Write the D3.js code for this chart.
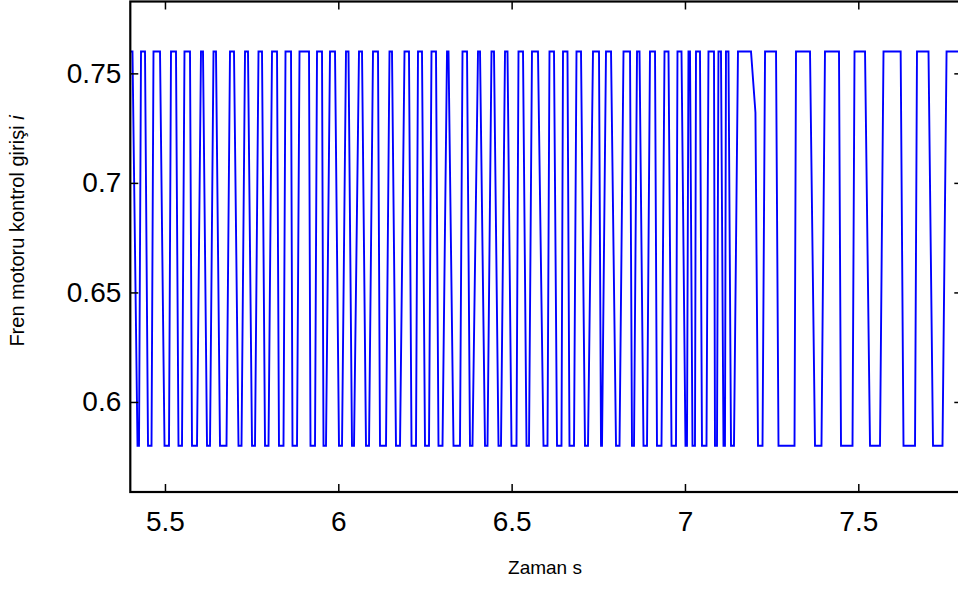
<!DOCTYPE html>
<html><head><meta charset="utf-8">
<script src="https://cdn.jsdelivr.net/npm/d3@7"></script>
<style>body{margin:0;background:#fff}svg{display:block}</style>
</head><body>
<script>
// Brake motor control input (corner points of the switching signal)
const time = [
  5.396, 5.4063, 5.4208, 5.4251, 5.4309, 5.4424, 5.4511, 5.4612,
  5.4669, 5.4857, 5.4987, 5.5116, 5.5174, 5.5318, 5.5390, 5.5491,
  5.5563, 5.5722, 5.5780, 5.5924, 5.6039, 5.6097, 5.6213, 5.6299,
  5.6400, 5.6472, 5.6588, 5.6775, 5.6876, 5.6991, 5.7121, 5.7208,
  5.7309, 5.7395, 5.7511, 5.7597, 5.7698, 5.7799, 5.7886, 5.7987,
  5.8088, 5.8232, 5.8289, 5.8419, 5.8477, 5.8636, 5.8679, 5.8809,
  5.8881, 5.9155, 5.9198, 5.9328, 5.9386, 5.9530, 5.9573, 5.9645,
  5.9761, 5.9905, 6.0020, 6.0107, 6.0222, 6.0294, 6.0395, 6.0453,
  6.0597, 6.0684, 6.0799, 6.0886, 6.1001, 6.1145, 6.1203, 6.1376,
  6.1477, 6.1549, 6.1664, 6.1780, 6.1910, 6.2039, 6.2112, 6.2241,
  6.2299, 6.2414, 6.2501, 6.2616, 6.2688, 6.2818, 6.2890, 6.3006,
  6.3136, 6.3179, 6.3323, 6.3510, 6.3583, 6.3713, 6.3799, 6.3871,
  6.4030, 6.4088, 6.4232, 6.4304, 6.4419, 6.4491, 6.4621, 6.4693,
  6.4809, 6.4881, 6.4996, 6.5140, 6.5198, 6.5328, 6.5429, 6.5501,
  6.5587, 6.5760, 6.5919, 6.6034, 6.6092, 6.6222, 6.6309, 6.6438,
  6.6482, 6.6611, 6.6669, 6.6799, 6.6871, 6.7001, 6.7116, 6.7203,
  6.7347, 6.7520, 6.7578, 6.7607, 6.7722, 6.7867, 6.8011, 6.8112,
  6.8227, 6.8415, 6.8472, 6.8530, 6.8617, 6.8689, 6.8804, 6.8905,
  6.8991, 6.9136, 6.9193, 6.9323, 6.9410, 6.9525, 6.9612, 6.9741,
  6.9784, 6.9900, 7.0015, 7.0058, 7.0101, 7.0145, 7.0217, 7.0289,
  7.0318, 7.0433, 7.0491, 7.0621, 7.0678, 7.0837, 7.0866, 7.0924,
  7.0966, 7.1039, 7.1111, 7.1154, 7.1183, 7.1255, 7.1328, 7.1414,
  7.1529, 7.1905, 7.2033, 7.2107, 7.2237,
  7.2310, 7.2627, 7.2698, 7.3160, 7.3203, 7.3607, 7.3751, 7.3938,
  7.4039, 7.4443, 7.4501, 7.4833, 7.4891, 7.5194, 7.5338, 7.5626,
  7.5727, 7.6222, 7.6304, 7.6636, 7.6693, 7.7025, 7.7155, 7.7429,
  7.7546, 7.8100
];
const input = [
  0.76, 0.76, 0.58, 0.58, 0.76, 0.76, 0.58, 0.58,
  0.76, 0.76, 0.58, 0.58, 0.76, 0.76, 0.58, 0.58,
  0.76, 0.76, 0.58, 0.58, 0.76, 0.76, 0.58, 0.58,
  0.76, 0.76, 0.58, 0.58, 0.76, 0.76, 0.58, 0.58,
  0.76, 0.76, 0.58, 0.58, 0.76, 0.76, 0.58, 0.58,
  0.76, 0.76, 0.58, 0.58, 0.76, 0.76, 0.58, 0.58,
  0.76, 0.76, 0.58, 0.58, 0.76, 0.76, 0.58, 0.58,
  0.76, 0.76, 0.58, 0.58, 0.76, 0.76, 0.58, 0.58,
  0.76, 0.76, 0.58, 0.58, 0.76, 0.76, 0.58, 0.58,
  0.76, 0.76, 0.58, 0.58, 0.76, 0.76, 0.58, 0.58,
  0.76, 0.76, 0.58, 0.58, 0.76, 0.76, 0.58, 0.58,
  0.76, 0.76, 0.58, 0.58, 0.76, 0.76, 0.58, 0.58,
  0.76, 0.76, 0.58, 0.58, 0.76, 0.76, 0.58, 0.58,
  0.76, 0.76, 0.58, 0.58, 0.76, 0.76, 0.58, 0.58,
  0.76, 0.76, 0.58, 0.58, 0.76, 0.76, 0.58, 0.58,
  0.76, 0.76, 0.58, 0.58, 0.76, 0.76, 0.58, 0.58,
  0.76, 0.76, 0.58, 0.58, 0.76, 0.76, 0.58, 0.58,
  0.76, 0.76, 0.58, 0.58, 0.76, 0.76, 0.58, 0.58,
  0.76, 0.76, 0.58, 0.58, 0.76, 0.76, 0.58, 0.58,
  0.76, 0.76, 0.58, 0.58, 0.76, 0.76, 0.58, 0.58,
  0.76, 0.76, 0.58, 0.58, 0.76, 0.76, 0.58, 0.58,
  0.76, 0.76, 0.58, 0.58, 0.76, 0.76, 0.58, 0.58,
  0.76, 0.76, 0.732, 0.58, 0.58,
  0.76, 0.76, 0.58, 0.58, 0.76, 0.76, 0.58, 0.58,
  0.76, 0.76, 0.58, 0.58, 0.76, 0.76, 0.58, 0.58,
  0.76, 0.76, 0.58, 0.58, 0.76, 0.76, 0.58, 0.58,
  0.76, 0.76
];
const xTicks = [5.5, 6, 6.5, 7, 7.5];
const yTicks = [0.6, 0.65, 0.7, 0.75];
const xLimits = [5.4, 7.8];
const yLimits = [0.5589, 0.7828];

const W = 958, H = 590;
const box = {left: 130.3, right: 962.3, top: 1.5, bottom: 492};
const font = "'Liberation Sans', Arial, Helvetica, sans-serif";
const plain = d => String(d);

const svg = d3.select("body").append("svg")
  .attr("width", W).attr("height", H)
  .style("font-family", font);

const x = d3.scaleLinear().domain(xLimits).range([box.left, box.right]);
const y = d3.scaleLinear().domain(yLimits).range([box.bottom, box.top]);

svg.append("clipPath").attr("id", "plot-clip")
  .append("rect")
  .attr("x", box.left).attr("y", box.top)
  .attr("width", box.right - box.left).attr("height", box.bottom - box.top);

const points = time.map((t, i) => ({t, v: input[i]}));
const line = d3.line().x(d => x(d.t)).y(d => y(d.v));

svg.append("path")
  .datum(points)
  .attr("clip-path", "url(#plot-clip)")
  .attr("fill", "none")
  .attr("stroke", "#0000ff")
  .attr("stroke-width", 1.9)
  .attr("stroke-linejoin", "miter")
  .attr("d", line);

// Axes with inward ticks on all four sides
const tick = 8;
const styleAxis = g => {
  g.select(".domain").remove();
  g.selectAll(".tick line").attr("stroke", "#000").attr("stroke-width", 1.5);
  g.selectAll(".tick text").attr("fill", "#000").style("font-size", "28px").style("font-family", font);
};
svg.append("g").attr("transform", `translate(0,${box.bottom})`)
  .call(d3.axisBottom(x).tickValues(xTicks).tickSize(-tick).tickPadding(19).tickFormat(plain))
  .call(styleAxis);
svg.append("g").attr("transform", `translate(0,${box.top})`)
  .call(d3.axisTop(x).tickValues(xTicks).tickSize(-tick).tickFormat(""))
  .call(styleAxis);
svg.append("g").attr("transform", `translate(${box.left},0)`)
  .call(d3.axisLeft(y).tickValues(yTicks).tickSize(-tick).tickPadding(9).tickFormat(plain))
  .call(styleAxis);
svg.append("g").attr("transform", `translate(${box.right},0)`)
  .call(d3.axisRight(y).tickValues(yTicks).tickSize(-tick).tickFormat(""))
  .call(styleAxis);

svg.append("rect")
  .attr("x", box.left).attr("y", box.top)
  .attr("width", box.right - box.left).attr("height", box.bottom - box.top)
  .attr("fill", "none").attr("stroke", "#000").attr("stroke-width", 2.2);

svg.append("text")
  .attr("x", 545).attr("y", 574)
  .attr("text-anchor", "middle")
  .style("font-size", "19px")
  .text("Zaman s");

const yTitle = svg.append("text")
  .attr("transform", "translate(24,231) rotate(-90)")
  .attr("text-anchor", "middle")
  .style("font-size", "20px");
yTitle.append("tspan").text("Fren motoru kontrol girişi ");
yTitle.append("tspan").style("font-style", "italic").text("i");
</script>
</body></html>
